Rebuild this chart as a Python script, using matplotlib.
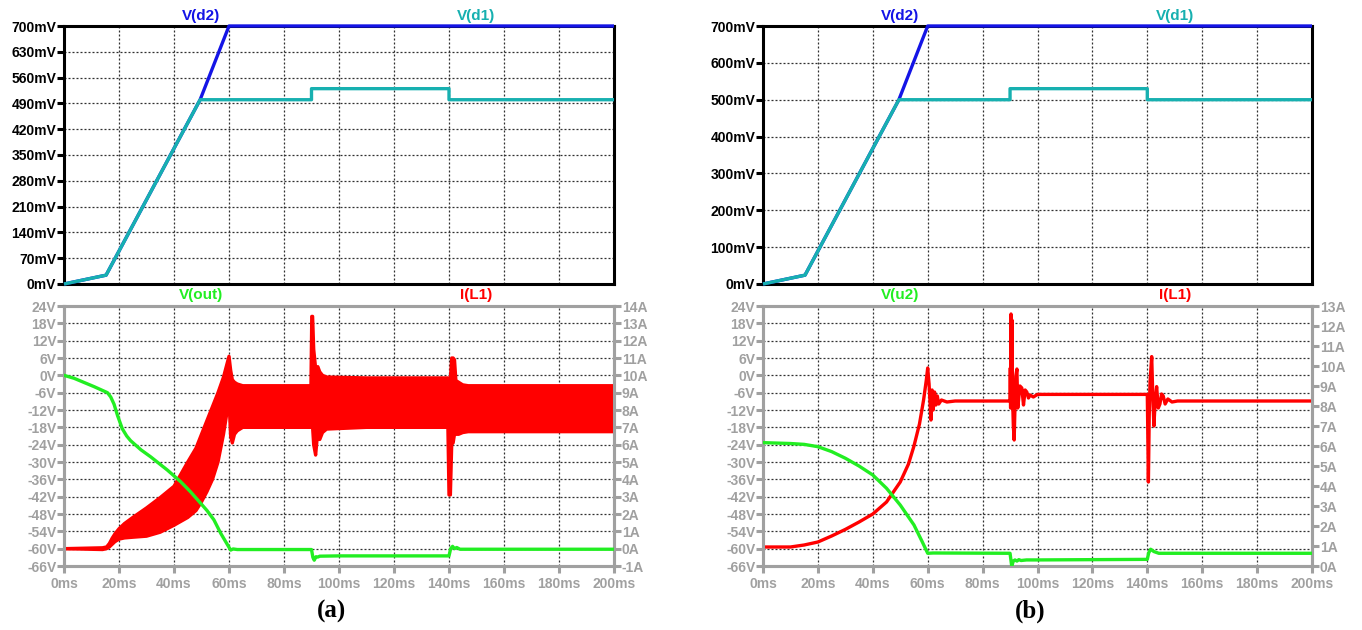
import matplotlib
matplotlib.use("Agg")
import matplotlib.pyplot as plt

plt.rcParams["font.family"] = ["Liberation Sans", "DejaVu Sans"]
plt.rcParams["font.weight"] = "bold"

# ---------------- shared time axis ----------------
x_ticks = [0, 20, 40, 60, 80, 100, 120, 140, 160, 180, 200]
x_tick_labels = [f"{v}ms" for v in x_ticks]

# ---------------- upper plots: diode voltages (mV) ----------------
t_d1 = [0, 15.3, 49.5, 90, 90, 140, 140, 200]
v_d1 = [0, 24, 500, 500, 530, 530, 500, 500]
t_d2 = [0, 15.3, 49.5, 60, 200]
v_d2 = [0, 24, 500, 700, 700]

yticks_top_a = list(range(0, 701, 70))
yticks_top_b = list(range(0, 701, 100))

# ---------------- (a) lower plot ----------------
t_out = [0, 3.6, 10.9, 15.8, 17.0, 18.2, 19.5, 21.2, 22.8, 24.2, 25.5, 28.0,
         31.5, 37.6, 42.4, 46.0, 49.7, 52.0, 54.5, 57.0, 60.6, 61.5, 63, 90,
         90.5, 91.0, 91.6, 92.3, 93.0, 100, 140, 140.6, 141.3, 142.0, 142.8,
         144, 200]
v_out = [0, -1.0, -3.9, -6.0, -7.5, -10.0, -14.0, -18.5, -21.0, -22.6, -23.7,
         -25.8, -28.2, -32.8, -36.8, -40.3, -44.3, -46.8, -50.0, -54.7, -60.5,
         -60.1, -60.3, -60.3, -63.0, -64.0, -62.8, -62.9, -62.6, -62.5, -62.5,
         -60.0, -59.2, -60.0, -59.6, -60.2, -60.2]

t_il_a = [0, 14, 15.5, 16.5, 17.5, 18.5, 20, 22, 25, 30, 35, 40, 45, 48, 50,
          52, 54, 56, 58, 59, 60, 60.6, 61.2, 62, 63, 65, 89.8, 90.1, 90.4,
          90.8, 91.5, 92.3, 93, 94, 95.5, 110, 139.6, 140.0, 140.5, 141.0,
          141.5, 142.0, 142.5, 143.5, 145, 147, 200]
il_a_upper = [0.0, 0.05, 0.1, 0.3, 0.6, 0.85, 1.15, 1.45, 1.8, 2.35, 2.95,
              3.6, 5.0, 5.8, 6.6, 7.4, 8.2, 9.0, 9.9, 10.5, 11.1, 10.3, 9.75,
              9.6, 9.5, 9.4, 9.4, 13.4, 13.4, 11.5, 10.4, 10.5, 10.2, 10.0,
              9.9, 9.85, 9.85, 9.8, 9.8, 11.0, 11.0, 10.9, 9.7, 9.6, 9.45,
              9.4, 9.4]
il_a_lower = [0.0, -0.05, 0.0, 0.1, 0.25, 0.4, 0.55, 0.62, 0.66, 0.72, 0.95,
              1.35, 1.8, 2.2, 2.7, 3.3, 4.0, 5.0, 6.6, 7.6, 8.6, 6.5, 6.1,
              6.6, 6.8, 7.0, 7.0, 7.0, 7.0, 6.0, 5.4, 6.8, 6.3, 6.7, 6.9, 7.0,
              7.0, 3.1, 3.1, 6.1, 6.1, 6.6, 6.6, 6.6, 6.7, 6.75, 6.75]

# ---------------- (b) lower plot ----------------
t_u2 = [0, 10, 15, 20, 25, 30, 35, 40, 45, 50, 55, 58, 60, 62, 90, 90.6,
        91.2, 91.8, 92.5, 93.2, 94, 96, 100, 140, 140.5, 141.2, 142.4, 144.2,
        200]
v_u2 = [-23.3, -23.6, -23.9, -24.7, -26.4, -28.7, -31.4, -34.5, -39.1, -44.9,
        -51.8, -57.6, -61.6, -61.5, -61.6, -66.0, -64.3, -63.9, -64.3, -63.8,
        -64.1, -63.9, -63.9, -63.7, -61.5, -60.2, -61.0, -61.6, -61.6]

t_il_b = [0, 10, 15, 20, 25, 30, 35, 40, 45, 50, 53, 55, 57, 58.5, 59.5, 60.0,
          60.5, 61.2, 61.6, 62.0, 62.5, 63.0, 63.5, 64.0, 65, 67, 70, 90.0,
          90.1, 90.2, 90.35, 90.5, 90.7, 90.9, 91.2, 91.5, 91.8, 92.1, 92.5,
          92.8, 93.1, 93.6, 94.3, 94.9, 95.5, 96.1, 96.7, 97.3, 98.5, 100,
          140.0, 140.15, 140.4, 140.7, 141.0, 141.6, 142.0, 142.4, 142.9,
          143.4, 144.0, 144.6, 145.2, 145.8, 146.5, 147.5, 149, 151, 200]
il_b = [0.95, 0.95, 1.05, 1.2, 1.5, 1.83, 2.2, 2.6, 3.2, 4.2, 5.1, 6.0, 7.1,
        8.3, 9.3, 9.9, 9.1, 7.3, 8.8, 7.8, 8.7, 8.05, 8.5, 8.1, 8.3, 8.2, 8.25,
        8.25, 9.9, 7.9, 12.6, 10.0, 12.3, 8.5, 7.0, 6.3, 8.0, 9.5, 9.85, 7.9,
        8.3, 9.0, 8.9, 8.05, 8.8, 8.7, 8.4, 8.55, 8.45, 8.58,
        8.58, 7.0, 4.2, 7.5, 9.2, 10.47, 8.5, 7.0, 8.3, 8.97, 7.9, 8.1, 8.6,
        8.5, 8.1, 8.35, 8.2, 8.25, 8.25]

yticks_bot = list(range(-66, 25, 6))
yticks_amp_a = list(range(-1, 15))
yticks_amp_b = list(range(0, 14))

# ---------------- styling ----------------
BLUE = "#1414E6"
TEAL = "#17B0B0"
GREEN = "#22EE22"
RED = "#FF0000"
GRAY = "#A0A0A0"
BLACK = "#000000"
TICK_FS = 10.0
LABEL_FS = 11.0
LW = 2.4

W, H = 1362, 630
fig = plt.figure(figsize=(W / 100, H / 100), dpi=100)


def frac(x0, x1, ytop, ybot):
    return [x0 / W, 1 - ybot / H, (x1 - x0) / W, (ybot - ytop) / H]


def style_frame(ax, color):
    for s in ax.spines.values():
        s.set_color(color)
        s.set_linewidth(2.2)


def grid(ax):
    ax.grid(True, color="#303030", linestyle=(0, (1.6, 1.6)), linewidth=0.9)
    ax.set_axisbelow(True)


def top_panel(rect, yticks):
    ax = fig.add_axes(rect)
    ax.set_xlim(0, 200)
    ax.set_ylim(0, 700)
    ax.set_xticks(x_ticks)
    ax.set_yticks(yticks)
    ax.set_yticklabels([f"{v}mV" for v in yticks], fontsize=TICK_FS,
                       fontweight="bold", color=BLACK)
    ax.tick_params(axis="x", length=0, labelbottom=False)
    ax.tick_params(axis="y", direction="out", length=5, width=2.2,
                   color=BLACK, pad=0.5)
    style_frame(ax, BLACK)
    grid(ax)
    ax.plot(t_d2, v_d2, color=BLUE, lw=LW, zorder=3, clip_on=False,
            solid_capstyle="butt")
    ax.plot(t_d1, v_d1, color=TEAL, lw=LW, zorder=4, clip_on=False,
            solid_capstyle="butt")
    ax.annotate("V(d2)", xy=(0.25, 1), xycoords="axes fraction",
                xytext=(0, 7.5), textcoords="offset points", ha="center",
                va="center", color=BLUE, fontsize=LABEL_FS, fontweight="bold")
    ax.annotate("V(d1)", xy=(0.75, 1), xycoords="axes fraction",
                xytext=(0, 7.5), textcoords="offset points", ha="center",
                va="center", color=TEAL, fontsize=LABEL_FS, fontweight="bold")
    return ax


def bottom_panel(rect, amp_ticks, v_label):
    ax = fig.add_axes(rect)
    ax.set_xlim(0, 200)
    ax.set_ylim(-66, 24)
    ax.set_xticks(x_ticks)
    ax.set_xticklabels(x_tick_labels, fontsize=TICK_FS, fontweight="bold",
                       color=GRAY)
    ax.set_yticks(yticks_bot)
    ax.set_yticklabels([f"{v}V" for v in yticks_bot], fontsize=TICK_FS,
                       fontweight="bold", color=GRAY)
    ax.tick_params(axis="x", direction="out", length=5, width=2.2,
                   color=GRAY, pad=3)
    ax.tick_params(axis="y", direction="out", length=5, width=2.2,
                   color=GRAY, pad=0.5)
    style_frame(ax, GRAY)
    grid(ax)
    ax2 = ax.twinx()
    ax2.set_ylim(amp_ticks[0], amp_ticks[-1])
    ax2.set_yticks(amp_ticks)
    ax2.set_yticklabels([f"{v}A" for v in amp_ticks], fontsize=TICK_FS,
                        fontweight="bold", color=GRAY)
    ax2.tick_params(axis="y", direction="out", length=5, width=2.2,
                    color=GRAY, pad=0.5)
    style_frame(ax2, GRAY)
    ax.annotate(v_label, xy=(0.25, 1), xycoords="axes fraction",
                xytext=(0, 8), textcoords="offset points", ha="center",
                va="center", color=GREEN, fontsize=LABEL_FS,
                fontweight="bold")
    ax.annotate("I(L1)", xy=(0.75, 1), xycoords="axes fraction",
                xytext=(0, 8), textcoords="offset points", ha="center",
                va="center", color=RED, fontsize=LABEL_FS, fontweight="bold")
    return ax, ax2


def voltage_overlay(ax, t, v):
    # separate transparent axes so the voltage trace sits above the current
    axv = fig.add_axes(ax.get_position(), sharex=ax, sharey=ax,
                       frameon=False)
    axv.plot(t, v, color=GREEN, lw=LW, zorder=5)
    axv.set_axis_off()
    return axv


# ---------------- (a) ----------------
top_panel(frac(64, 614, 26, 284), yticks_top_a)
axa, axa2 = bottom_panel(frac(64, 614, 306, 566), yticks_amp_a, "V(out)")
axa2.fill_between(t_il_a, il_a_lower, il_a_upper, color=RED, lw=0, zorder=2)
axa2.plot(t_il_a, il_a_upper, color=RED, lw=LW, zorder=2)
axa2.plot(t_il_a, il_a_lower, color=RED, lw=LW, zorder=2)
voltage_overlay(axa, t_out, v_out)

# ---------------- (b) ----------------
top_panel(frac(763, 1312, 26, 284), yticks_top_b)
axb, axb2 = bottom_panel(frac(763, 1312, 306, 566), yticks_amp_b, "V(u2)")
axb2.plot(t_il_b, il_b, color=RED, lw=LW, zorder=2)
voltage_overlay(axb, t_u2, v_u2)

# ---------------- captions ----------------
fig.text(331 / W, 1 - 611 / H, "(a)", ha="center", va="center",
         fontsize=18, fontweight="bold",
         family=["Liberation Serif", "DejaVu Serif"])
fig.text(1030 / W, 1 - 611 / H, "(b)", ha="center", va="center",
         fontsize=18, fontweight="bold",
         family=["Liberation Serif", "DejaVu Serif"])

fig.savefig("out.png", dpi=100)
